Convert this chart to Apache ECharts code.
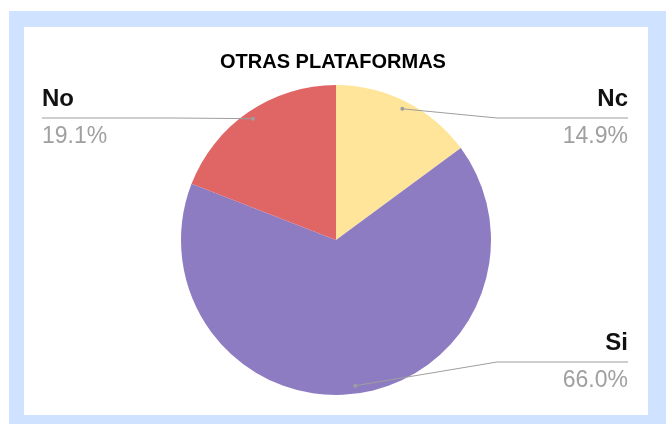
<!DOCTYPE html>
<html>
<head>
<meta charset="utf-8">
<script src="https://cdn.jsdelivr.net/npm/echarts@6/dist/echarts.min.js"></script>
<style>
  html, body { margin: 0; padding: 0; background: #fff; }
  #frame { position: absolute; left: 9px; top: 11px; width: 657px; height: 413px; background: #cfe2ff; }
  #inner { position: absolute; left: 24px; top: 27px; width: 624px; height: 388px; background: #fff; }
  #chart { position: absolute; left: 0; top: 0; width: 666px; height: 424px; }
</style>
</head>
<body>
<div id="frame"></div>
<div id="inner"></div>
<div id="chart"></div>
<script>
const categories = ['Nc', 'Si', 'No'];
const values = [14.9, 66.0, 19.1];
const colors = ['#ffe599', '#8e7cc3', '#e06666'];

const FONT = '"Liberation Sans", Arial, sans-serif';
const CX = 336, CY = 240, R = 155;
const total = values.reduce((a, b) => a + b, 0);

// middle angle of slice i (radians, math convention, start at 12 o'clock, clockwise)
function midAngle(i) {
  let before = 0;
  for (let k = 0; k < i; k++) before += values[k];
  return (90 - 360 * (before + values[i] / 2) / total) * Math.PI / 180;
}

function labelLine(i) {
  const a = midAngle(i);
  const right = Math.cos(a) >= 0;
  // labels kept inside a band around the pie
  const y = Math.min(CY + 122, Math.max(CY - 122, CY - R * Math.sin(a)));
  const dot = [CX + (R - 8) * Math.cos(a), CY - (R - 8) * Math.sin(a)];
  const bendX = right ? CX + R + 6 : CX - R - 6;
  const endX = right ? 628 : 42;
  return { right, y, dot, bendX, endX };
}

const guides = [];
categories.forEach((c, i) => {
  const l = labelLine(i);
  guides.push({
    type: 'polyline', z: 100,
    shape: { points: [l.dot, [l.bendX, l.y], [l.endX, l.y]] },
    style: { stroke: '#9e9e9e', lineWidth: 1, fill: null }
  });
  guides.push({
    type: 'circle', z: 101,
    shape: { cx: l.dot[0], cy: l.dot[1], r: 2 },
    style: { fill: '#9e9e9e' }
  });
});

const chart = echarts.init(document.getElementById('chart'));
chart.setOption({
  animation: false,
  title: {
    text: 'OTRAS PLATAFORMAS',
    left: 'center',
    top: 47,
    textStyle: { fontFamily: FONT, fontSize: 20, fontWeight: 'bold', color: '#000' }
  },
  graphic: guides,
  series: [{
    type: 'pie',
    center: [CX, CY],
    radius: R,
    startAngle: 90,
    clockwise: true,
    data: categories.map((c, i) => ({ name: c, value: values[i], itemStyle: { color: colors[i] } })),
    itemStyle: { borderWidth: 0 },
    label: {
      show: true,
      position: 'outside',
      formatter: p => '{n|' + p.name + '}\n{p|' + p.value.toFixed(1) + '%}',
      rich: {
        n: { fontFamily: FONT, fontSize: 24, fontWeight: 'bold', color: '#111', lineHeight: 38 },
        p: { fontFamily: FONT, fontSize: 23, color: '#a0a0a0', lineHeight: 38 }
      }
    },
    labelLine: { show: false },
    labelLayout: function (p) {
      const l = labelLine(p.dataIndex);
      return {
        x: l.endX,
        y: l.y,
        align: l.right ? 'right' : 'left',
        verticalAlign: 'middle'
      };
    }
  }]
});
</script>
</body>
</html>
